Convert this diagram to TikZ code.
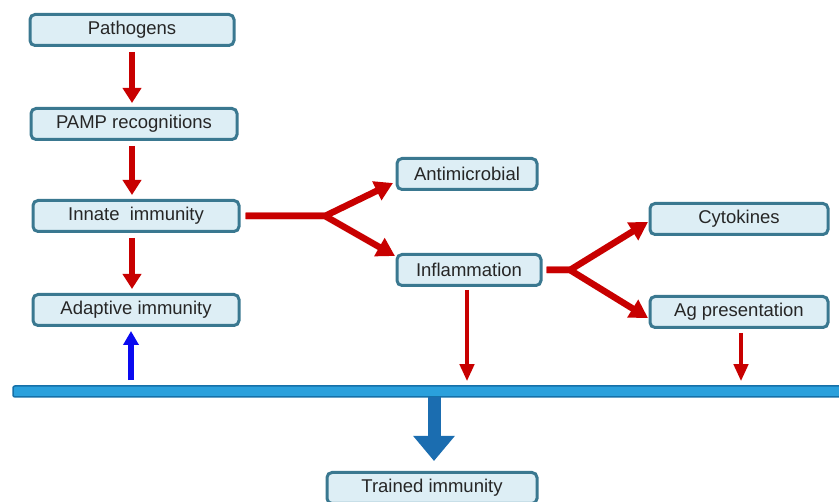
\documentclass[tikz,border=0pt]{standalone}
\usepackage{fontspec}
\setmainfont{Liberation Sans}
\usetikzlibrary{arrows.meta}
\definecolor{boxfill}{HTML}{DDEEF5}
\definecolor{boxline}{HTML}{3A7890}
\definecolor{arred}{HTML}{C80000}
\definecolor{barfill}{HTML}{2AA0DC}
\definecolor{barline}{HTML}{1570A8}
\definecolor{bigblue}{HTML}{1B6DB0}
\definecolor{upblue}{HTML}{0A0AF0}
\begin{document}
\begin{tikzpicture}[x=1pt,y=-1pt,
 box/.style={draw=boxline, line width=3pt, fill=boxfill, rounded corners=5pt,
   minimum height=31pt, inner sep=0pt, font=\fontsize{18.5}{20}\selectfont, text=black!85},
 vred/.style={draw=arred, line width=6pt, -{Triangle[width=18pt,length=15pt]}},
 thinred/.style={draw=arred, line width=4pt, -{Triangle[width=14pt,length=17pt]}},
 forkred/.style={draw=arred, line width=6.5pt, line join=round, -{Triangle[width=20pt,length=18pt]}},
 upb/.style={draw=upblue, line width=6pt, -{Triangle[width=15pt,length=14pt]}},
 bigb/.style={draw=bigblue, line width=13pt, -{Triangle[width=40pt,length=25pt]}},
 barst/.style={draw=barline, fill=barfill, line width=1.5pt, minimum height=11pt, inner sep=0pt, rounded corners=2pt}
]
\useasboundingbox (0,0) rectangle (839,502);

\node[box, minimum width=204pt] (path) at (132,30) {Pathogens};
\node[box, minimum width=206pt] (pamp) at (134,124) {PAMP recognitions};
\node[box, minimum width=206pt] (innate) at (136,216) {Innate\ \ immunity};
\node[box, minimum width=206pt] (adapt) at (136,310) {Adaptive immunity};
\node[box, minimum width=140pt] (anti) at (467,174) {Antimicrobial};
\node[box, minimum width=144pt] (infl) at (469,270) {Inflammation};
\node[box, minimum width=178pt] (cyto) at (739,219) {Cytokines};
\node[box, minimum width=178pt] (agp) at (739,312) {Ag presentation};
\node[box, minimum width=210pt] (trained) at (432,488) {Trained immunity};

\node[barst, minimum width=830pt] (bar) at (428,391.5) {};

% vertical red arrows
\draw[vred] ([yshift=-5pt]path.south) -- ([yshift=4pt]path.south |- pamp.north);
\draw[vred] ([yshift=-5pt]path.south |- pamp.south) -- ([yshift=4pt]path.south |- innate.north);
\draw[vred] ([yshift=-5pt]path.south |- innate.south) -- ([yshift=4pt]path.south |- adapt.north);

% forks
\coordinate (f1) at (325,216);
\coordinate (t1) at (393,183);
\coordinate (t2) at (395,256);
\draw[forkred] ([xshift=5pt]innate.east) -- (f1) -- (t1);
\draw[forkred] ([xshift=5pt]innate.east) -- (f1) -- (t2);

\coordinate (f2) at (570,270);
\coordinate (t3) at (648,222);
\coordinate (t4) at (648,318);
\draw[forkred] ([xshift=4pt]infl.east) -- (f2) -- (t3);
\draw[forkred] ([xshift=4pt]infl.east) -- (f2) -- (t4);

% down to bar
\draw[thinred] ([xshift=-2pt,yshift=-3pt]infl.south) -- ([xshift=-2pt,yshift=4pt]infl.south |- bar.north);
\draw[thinred] ([xshift=2pt,yshift=-4pt]agp.south) -- ([xshift=2pt,yshift=4pt]agp.south |- bar.north);

% up blue
\draw[upb] ([xshift=-5pt,yshift=5pt]adapt.south |- bar.north) -- ([xshift=-5pt,yshift=-4pt]adapt.south);

% big blue
\draw[bigb] ([xshift=2pt,yshift=1pt]trained.north |- bar.south) -- ([xshift=2pt,yshift=10pt]trained.north);
\end{tikzpicture}
\end{document}
